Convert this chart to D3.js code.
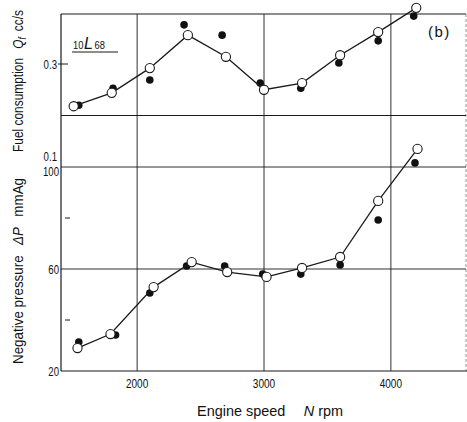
<!DOCTYPE html>
<html>
<head>
<meta charset="utf-8">
<script src="https://cdn.jsdelivr.net/npm/d3@7"></script>
<style>
  html, body { margin: 0; padding: 0; background: #fff; }
  svg { display: block; }
  text { font-family: "Liberation Sans", Arial, sans-serif; fill: #111; }
</style>
</head>
<body>
<svg id="chart" width="467" height="422"></svg>
<script>
// Fuel consumption Qf (cc/s) vs engine speed
const fuelOpenRpm  = [1500, 1800, 2100, 2400, 2700, 3000, 3300, 3600, 3900, 4200];
const fuelOpenVal  = [0.218, 0.244, 0.292, 0.356, 0.314, 0.250, 0.263, 0.317, 0.362, 0.409];
const fuelDotRpm   = [1540, 1810, 2100, 2370, 2670, 2970, 3290, 3590, 3900, 4180];
const fuelDotVal   = [0.220, 0.253, 0.269, 0.376, 0.356, 0.263, 0.253, 0.302, 0.345, 0.393];

// Negative pressure ΔP (mmAg) vs engine speed
const presOpenRpm  = [1530, 1790, 2130, 2430, 2710, 3020, 3300, 3600, 3900, 4210];
const presOpenVal  = [29.0, 34.5, 52.9, 62.7, 58.8, 56.9, 60.4, 64.7, 86.7, 107.1];
const presDotRpm   = [1540, 1830, 2100, 2390, 2690, 2990, 3290, 3600, 3900, 4190];
const presDotVal   = [31.4, 34.1, 50.6, 61.2, 61.2, 58.0, 58.0, 61.6, 79.2, 101.6];

// Tick labels
const xTicks      = [2000, 3000, 4000];
const fuelTicks   = [0.1, 0.3];
const presTicks   = [20, 60, 100];
const presMinor   = [40, 80];

const svg = d3.select("#chart");
const pLeft = 61, pRight = 466, pTop = 14, pBottom = 371;

const x  = d3.scaleLinear().domain([1400, 4600]).range([pLeft, pLeft + 406]);
const yP = d3.scaleLinear().domain([20, 120]).range([pBottom, pBottom - 255]);
const yF = d3.scaleLinear().domain([0.1, 0.3]).range([yP(100), 64]);

const ink = "#1a1a1a";
const g = svg.append("g");

// narrow the lettering to a condensed face
function condense(sel, f) {
  sel.each(function () {
    const len = this.getComputedTextLength();
    this.setAttribute("textLength", (len * f).toFixed(1));
    this.setAttribute("lengthAdjust", "spacingAndGlyphs");
  });
}

// frame and grid
g.append("line").attr("x1", pLeft).attr("x2", pRight).attr("y1", pTop).attr("y2", pTop)
  .attr("stroke", ink).attr("stroke-width", 1);
g.append("line").attr("x1", pRight).attr("x2", pRight).attr("y1", pTop).attr("y2", pBottom)
  .attr("stroke", "#777").attr("stroke-width", 0.8).attr("stroke-dasharray", "3,2");
g.append("line").attr("x1", pLeft).attr("x2", pLeft).attr("y1", pTop).attr("y2", pBottom)
  .attr("stroke", ink).attr("stroke-width", 1.2);
g.append("line").attr("x1", pLeft).attr("x2", pRight + 1).attr("y1", pBottom).attr("y2", pBottom)
  .attr("stroke", ink).attr("stroke-width", 1.2);
// panel separator at Qf = 0.2
g.append("line").attr("x1", pLeft).attr("x2", pRight).attr("y1", yF(0.2)).attr("y2", yF(0.2))
  .attr("stroke", ink).attr("stroke-width", 1);

g.selectAll("line.hgrid").data([60, 100]).join("line").attr("class", "hgrid")
  .attr("x1", pLeft).attr("x2", pRight).attr("y1", d => yP(d)).attr("y2", d => yP(d))
  .attr("stroke", ink).attr("stroke-width", 0.9);

g.selectAll("line.vgrid").data(xTicks).join("line").attr("class", "vgrid")
  .attr("x1", d => x(d)).attr("x2", d => x(d)).attr("y1", pTop).attr("y2", pBottom)
  .attr("stroke", ink).attr("stroke-width", 0.9);

// tick marks
g.append("line").attr("x1", pLeft - 3).attr("x2", pLeft + 7)
  .attr("y1", yF(0.3)).attr("y2", yF(0.3)).attr("stroke", ink).attr("stroke-width", 1);
g.selectAll("line.minor").data(presMinor).join("line").attr("class", "minor")
  .attr("x1", pLeft + 4).attr("x2", pLeft + 9).attr("y1", d => yP(d)).attr("y2", d => yP(d))
  .attr("stroke", ink).attr("stroke-width", 1);

// tick labels
const xl = g.selectAll("text.xt").data(xTicks).join("text").attr("class", "xt")
  .attr("x", d => x(d)).attr("y", 388).attr("text-anchor", "middle")
  .attr("font-size", 12.5).text(d => d);
condense(xl, 0.8);

const fl = g.selectAll("text.yf").data(fuelTicks).join("text").attr("class", "yf")
  .attr("x", 57).attr("y", d => d === 0.1 ? yF(d) - 6 : yF(d) + 5).attr("text-anchor", "end")
  .attr("font-size", 12).text(d => d3.format(".1f")(d));
condense(fl, 0.8);

const pl = g.selectAll("text.yp").data(presTicks).join("text").attr("class", "yp")
  .attr("x", 59).attr("y", d => yP(d) + (d === 100 ? 8.5 : 5)).attr("text-anchor", "end")
  .attr("font-size", 12).text(d => d);
condense(pl, 0.8);

// axis titles
const xt = g.append("text").attr("x", 197).attr("y", 416)
  .attr("font-size", 14.5);
xt.append("tspan").text("Engine speed\u2003 ");
xt.append("tspan").attr("font-style", "italic").text("N");
xt.append("tspan").text(" rpm");
xt.attr("textLength", 146).attr("lengthAdjust", "spacingAndGlyphs");

const fy = g.append("text").attr("transform", "translate(23,152) rotate(-90)")
  .attr("font-size", 14.5);
fy.append("tspan").text("Fuel consumption\u2002 ");
fy.append("tspan").attr("font-style", "italic").text("Q");
fy.append("tspan").attr("font-style", "italic").attr("font-size", 10).attr("dy", 3).text("f");
fy.append("tspan").attr("dy", -3).text("\u2002cc/s");
fy.attr("textLength", 142).attr("lengthAdjust", "spacingAndGlyphs");

const py = g.append("text").attr("transform", "translate(23,364) rotate(-90)")
  .attr("font-size", 14.5);
py.append("tspan").text("Negative pressure\u2002 ");
py.append("tspan").attr("font-style", "italic").text("\u0394P");
py.append("tspan").text("\u2002 mmAg");
py.attr("textLength", 186).attr("lengthAdjust", "spacingAndGlyphs");

// throttle annotation, underlined
const a1 = g.append("text").attr("x", 73).attr("y", 49).attr("font-size", 11).text("10");
condense(a1, 0.85);
g.append("text").attr("x", 84).attr("y", 49).attr("font-size", 16)
  .attr("font-style", "italic").text("L");
const a2 = g.append("text").attr("x", 94.5).attr("y", 49).attr("font-size", 11).text("68");
condense(a2, 0.85);
g.append("line").attr("x1", 72).attr("x2", 118).attr("y1", 52).attr("y2", 52)
  .attr("stroke", ink).attr("stroke-width", 1);
g.append("text").attr("x", 428).attr("y", 37).attr("font-size", 15)
  .attr("letter-spacing", 1.5).text("(b)");

// data marks
function series(openRpm, openVal, dotRpm, dotVal, y) {
  const dots = dotRpm.map((r, i) => [r, dotVal[i]]);
  const open = openRpm.map((r, i) => [r, openVal[i]]);
  g.append("g").selectAll("circle").data(dots).join("circle")
    .attr("cx", d => x(d[0])).attr("cy", d => y(d[1])).attr("r", 3.8).attr("fill", "#111");
  g.append("path").datum(open)
    .attr("d", d3.line().x(d => x(d[0])).y(d => y(d[1])))
    .attr("fill", "none").attr("stroke", ink).attr("stroke-width", 1.3);
  g.append("g").selectAll("circle").data(open).join("circle")
    .attr("cx", d => x(d[0])).attr("cy", d => y(d[1])).attr("r", 4.6)
    .attr("fill", "#fff").attr("stroke", ink).attr("stroke-width", 1.1);
}
series(fuelOpenRpm, fuelOpenVal, fuelDotRpm, fuelDotVal, yF);
series(presOpenRpm, presOpenVal, presDotRpm, presDotVal, yP);
</script>
</body>
</html>
